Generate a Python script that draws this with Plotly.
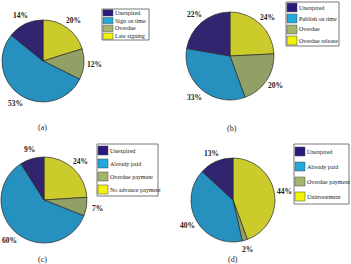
import math
import plotly.graph_objects as go

W, H = 351, 264

labels_a = ["Unexpired", "Sign on time", "Overdue", "Late signing"]
values_a = [14, 53, 12, 20]
labels_b = ["Unexpired", "Publish on time", "Overdue", "Overdue release"]
values_b = [22, 33, 20, 24]
labels_c = ["Unexpired", "Already paid", "Overdue payment", "No advance payment"]
values_c = [9, 60, 7, 24]
labels_d = ["Unexpired", "Already paid", "Overdue payment", "Uninvestment"]
values_d = [13, 40, 2, 44]
captions = ["(a)", "(b)", "(c)", "(d)"]

pie_colors = ["#33246f", "#2690bf", "#91a064", "#cccb2c"]
leg_colors = ["#2a1a7e", "#22a8dc", "#a3b66a", "#f2f20a"]

# pixel geometry of each panel: pie center/radius, legend box, caption
panels = [
    dict(labels=labels_a, values=values_a, cx=43, cy=61, r=41,
         box=(102, 9, 149, 40), cap=(42, 127)),
    dict(labels=labels_b, values=values_b, cx=230, cy=56, r=44,
         box=(286, 2, 339, 46), cap=(232, 128)),
    dict(labels=labels_c, values=values_c, cx=44, cy=200, r=43,
         box=(97, 144, 158, 196), cap=(42, 259)),
    dict(labels=labels_d, values=values_d, cx=233, cy=200, r=42,
         box=(294, 144, 349, 204), cap=(233, 259)),
]

def px(x):
    return x / W

def py(y):
    return 1 - y / H

fig = go.Figure()
shapes = []
annotations = []
serif = "Liberation Serif, Times New Roman, serif"

for i, p in enumerate(panels):
    cx, cy, r = p["cx"], p["cy"], p["r"]
    # reversed order + clockwise => slices run counterclockwise from 12 o'clock
    fig.add_trace(go.Pie(
        labels=p["labels"][::-1], values=p["values"][::-1], sort=False,
        direction="clockwise", rotation=0,
        marker=dict(colors=pie_colors[::-1], line=dict(color="#2a2a2a", width=0.7)),
        textinfo="none", hoverinfo="skip", showlegend=False,
        domain=dict(x=[px(cx - r), px(cx + r)], y=[py(cy + r), py(cy - r)]),
    ))
    total = sum(p["values"])
    cum = 0
    for v in p["values"]:
        mid = 90 + (cum + v / 2) / total * 360
        cum += v
        a = math.radians(mid)
        tx = cx + 1.25 * r * math.cos(a)
        ty = cy - 1.22 * r * math.sin(a)
        annotations.append(dict(
            x=px(tx), y=py(ty), xref="paper", yref="paper",
            text=f"<b>{v}%</b>", showarrow=False,
            xanchor="center", yanchor="middle",
            font=dict(family=serif, size=7.5, color="#222")))
    # legend
    x0, y0, x1, y1 = p["box"]
    shapes.append(dict(type="rect", xref="paper", yref="paper",
                       x0=px(x0), x1=px(x1), y0=py(y1), y1=py(y0),
                       line=dict(color="#555", width=0.8), fillcolor="white"))
    n = len(p["labels"])
    rh = (y1 - y0) / n
    sh = min(rh * 0.8, 9)
    for k, lab in enumerate(p["labels"]):
        ymid = y0 + rh * (k + 0.5)
        shapes.append(dict(type="rect", xref="paper", yref="paper",
                           x0=px(x0 + 1), x1=px(x0 + 11),
                           y0=py(ymid + sh / 2), y1=py(ymid - sh / 2),
                           line=dict(color="#444", width=0.5),
                           fillcolor=leg_colors[k]))
        annotations.append(dict(
            x=px(x0 + 11), y=py(ymid), xref="paper", yref="paper",
            text=lab, showarrow=False, xanchor="left", yanchor="middle",
            font=dict(family=serif, size=6, color="#222")))
    annotations.append(dict(
        x=px(p["cap"][0]), y=py(p["cap"][1]), xref="paper", yref="paper",
        text=captions[i], showarrow=False, xanchor="center", yanchor="middle",
        font=dict(family=serif, size=8, color="#222")))

fig.update_layout(
    width=W, height=H, margin=dict(l=0, r=0, t=0, b=0),
    paper_bgcolor="white", plot_bgcolor="white",
    shapes=shapes, annotations=annotations, showlegend=False,
)
fig.write_html("out.html")
